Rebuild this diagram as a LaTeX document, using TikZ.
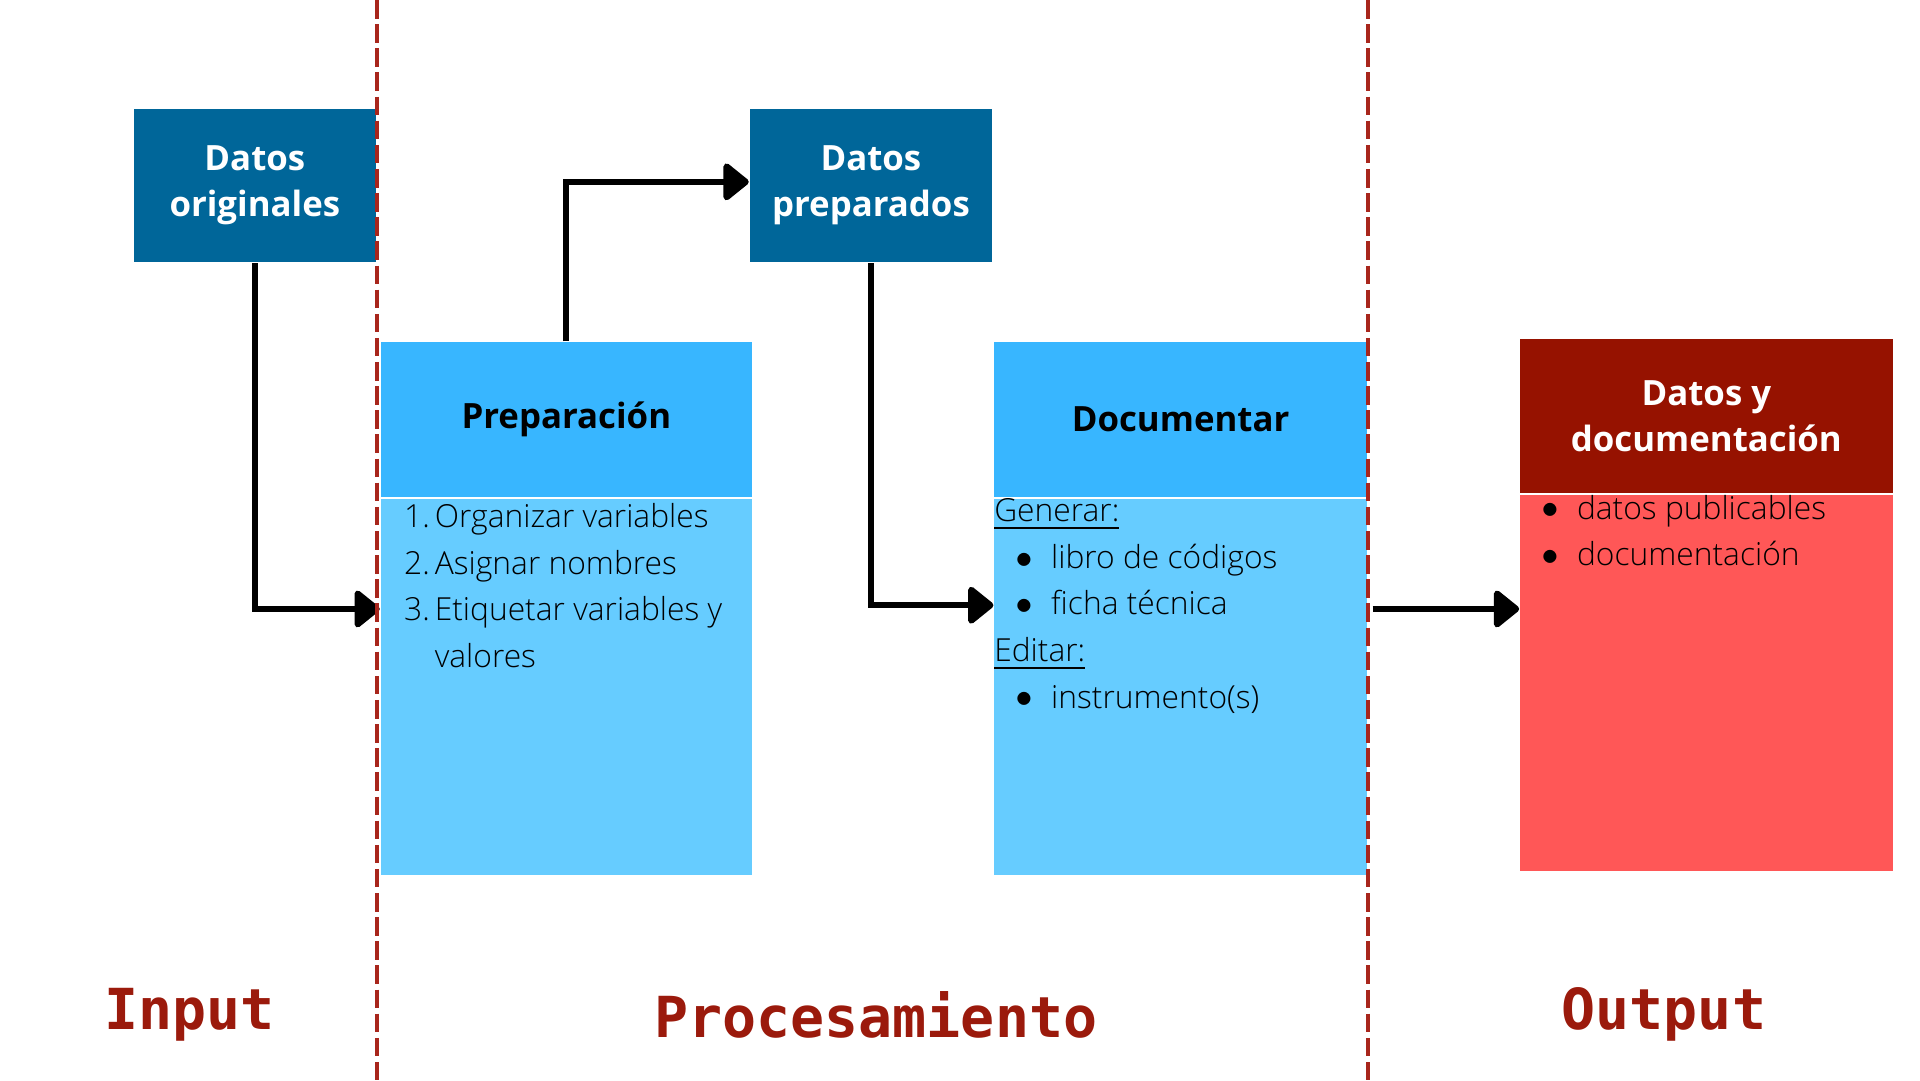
\documentclass[tikz,border=0pt]{standalone}
\usepackage{fontspec}
\setmainfont{Open Sans Light}[BoldFont={Open Sans Bold}]
\newfontfamily\monofnt{DejaVu Sans Mono}
\usepackage{array}
\usetikzlibrary{arrows.meta,positioning}
\definecolor{datablue}{HTML}{006699}
\definecolor{headblue}{HTML}{38B6FF}
\definecolor{bodyblue}{HTML}{66CCFF}
\definecolor{headred}{HTML}{961200}
\definecolor{bodyred}{HTML}{FF5757}
\definecolor{limitred}{HTML}{A8261C}
\definecolor{labelred}{HTML}{9B1A0C}
\newcommand{\itm}[1]{\hspace*{0.17cm}\makebox[0.29cm][l]{\raisebox{0.3pt}{$\bullet$}}#1}
\begin{document}
\begin{tikzpicture}[x=0.01cm, y=-0.01cm, font=\fontsize{7.3}{10.7}\selectfont, >={Triangle[length=0.22cm,width=0.34cm,round]},
	datos/.style={fill=datablue, text=white, font=\fontsize{8}{10.6}\selectfont\bfseries, minimum width=1.96cm, minimum height=1.24cm, align=center, inner sep=0},
	cabeza/.style={minimum width=3cm, minimum height=1.25cm, inner sep=0, font=\fontsize{8}{10.6}\selectfont\bfseries, align=center},
	cuerpo/.style={minimum width=3cm, minimum height=3.04cm, inner sep=0},
	lista/.style={anchor=north west, inner sep=0, align=left},
	flecha/.style={->, line width=0.05cm},
	limite/.style={draw=limitred, line width=0.03cm, dash pattern=on 0.15cm off 0.045cm},
	fase/.style={text=labelred, font=\monofnt\bfseries\fontsize{13}{15}\selectfont}]
		\useasboundingbox (0,0) rectangle (1552,873);
		% entrada y datos intermedios
		\node[datos] (orig) at (206,150) {Datos\\originales};
		\node[datos] (prepd) at (704,150) {Datos\\preparados};
		% bloques de procesamiento
		\node[cabeza, fill=headblue, anchor=north west] (prep) at (307,276) {Preparación};
		\node[cuerpo, fill=bodyblue, below=0pt of prep] (prepbody) {};
		\node[lista] (preplist) at ([xshift=0.19cm,yshift=0.03cm]prepbody.north west) {%
			\begin{tabular}{@{}r@{\hspace{0.04cm}}>{\raggedright\arraybackslash}p{2.5cm}@{}}
				1. & Organizar variables\\
				2. & Asignar nombres\\
				3. & Etiquetar variables y valores
			\end{tabular}};
		\node[cabeza, fill=headblue, anchor=north west, minimum width=3.01cm] (doc) at (803,276) {Documentar};
		\node[cuerpo, fill=bodyblue, minimum width=3.01cm, below=0pt of doc] (docbody) {};
		\node[lista] (doclist) at (docbody.north west) {\underline{Generar:}\\ \itm{libro de códigos}\\ \itm{ficha técnica}\\ \underline{Editar:}\\ \itm{instrumento(s)}};
		% salida
		\node[cabeza, fill=headred, text=white, anchor=north west, minimum width=3.01cm] (out) at (1228,273) {Datos y\\documentación};
		\node[cuerpo, fill=bodyred, minimum width=3.01cm, below=0pt of out] (outbody) {};
		\node[lista] (outlist) at (outbody.north west) {\itm{datos publicables}\\ \itm{documentación}};
		% flechas
		\draw[flecha] (orig.south) |- ([yshift=0.63cm]prepbody.west);
		\draw[flecha] (prep.north) |- ([yshift=0.03cm]prepd.west);
		\draw[flecha] (prepd.south) |- ([yshift=0.66cm]docbody.west);
		\coordinate (salida) at ([xshift=0.04cm,yshift=0.63cm]docbody.east);
		\draw[flecha] (salida) -- (salida -| outbody.west);
		% limites de fase
		\draw[limite] (305,0) -- (305,873);
		\draw[limite] (1106,0) -- (1106,873);
		\node[fase] (input) at (153,820) {Input};
		\node[fase] (proc) at (708,820) {Procesamiento};
		\node[fase] (output) at (1345,820) {Output};
	\end{tikzpicture}
\end{document}
